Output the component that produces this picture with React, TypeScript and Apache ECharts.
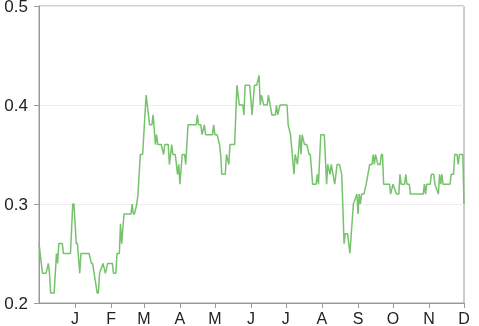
import React, { useEffect, useRef } from "react";
import * as echarts from "echarts";

// Day offsets from 1 Dec (previous year) and the series value on that day (breakpoints of the daily series)
const days = [
  0, 3, 6, 8, 9, 10, 13, 15, 16, 17, 20, 21, 27, 29, 30, 32, 33, 35, 36, 43, 45, 46, 50, 51, 52, 55, 57, 59, 63, 64,
  66, 67, 69, 70, 71, 73, 79, 80, 81, 82, 84, 85, 87, 89, 92, 95, 97, 98, 100, 101, 102, 105, 107, 108, 111, 112,
  114, 115, 117, 119, 120, 121, 123, 125, 126, 128, 135, 136, 137, 139, 140, 142, 143, 149, 150, 151, 153, 155, 156,
  157, 160, 161, 163, 164, 168, 170, 172, 175, 176, 177, 181, 183, 185, 187, 189, 190, 191, 193, 196, 197, 200, 203,
  204, 205, 207, 213, 214, 216, 219, 220, 222, 224, 225, 226, 228, 230, 232, 233, 235, 238, 239, 240, 242, 245, 247,
  248, 250, 251, 254, 256, 258, 260, 262, 263, 265, 267, 270, 273, 274, 275, 276, 277, 279, 281, 284, 286, 287, 288,
  289, 291, 293, 294, 295, 296, 301, 302, 304, 307, 309, 310, 311, 314, 315, 316, 318, 319, 330, 331, 332, 333, 336,
  337, 339, 340, 343, 344, 345, 346, 347, 353, 354, 356, 357, 359, 360, 361, 364, 365,
];
const values = [
  0.26, 0.23, 0.23, 0.24, 0.23, 0.21, 0.21, 0.25, 0.24, 0.26, 0.26, 0.25, 0.25, 0.3, 0.3, 0.26, 0.26, 0.23, 0.25,
  0.25, 0.24, 0.24, 0.21, 0.21, 0.23, 0.24, 0.23, 0.24, 0.24, 0.23, 0.23, 0.25, 0.25, 0.28, 0.26, 0.29, 0.29, 0.3,
  0.29, 0.29, 0.3, 0.31, 0.35, 0.35, 0.41, 0.38, 0.38, 0.39, 0.36, 0.37, 0.36, 0.36, 0.35, 0.36, 0.36, 0.34, 0.36,
  0.35, 0.35, 0.33, 0.34, 0.32, 0.35, 0.35, 0.34, 0.38, 0.38, 0.39, 0.38, 0.38, 0.37, 0.38, 0.37, 0.37, 0.38, 0.37,
  0.37, 0.36, 0.35, 0.33, 0.33, 0.35, 0.34, 0.36, 0.36, 0.42, 0.4, 0.4, 0.39, 0.42, 0.42, 0.39, 0.42, 0.42, 0.43,
  0.4, 0.41, 0.4, 0.4, 0.41, 0.39, 0.39, 0.4, 0.39, 0.4, 0.4, 0.38, 0.37, 0.33, 0.35, 0.34, 0.37, 0.35, 0.37, 0.36,
  0.36, 0.35, 0.35, 0.32, 0.32, 0.33, 0.32, 0.37, 0.37, 0.32, 0.34, 0.33, 0.34, 0.32, 0.34, 0.34, 0.33, 0.26, 0.27,
  0.27, 0.25, 0.3, 0.31, 0.29, 0.31, 0.3, 0.31, 0.31, 0.32, 0.34, 0.34, 0.35, 0.34, 0.35, 0.34, 0.34, 0.35, 0.35,
  0.32, 0.32, 0.31, 0.32, 0.31, 0.31, 0.33, 0.32, 0.32, 0.33, 0.32, 0.32, 0.31, 0.31, 0.32, 0.31, 0.32, 0.32, 0.33,
  0.33, 0.32, 0.31, 0.33, 0.32, 0.33, 0.32, 0.32, 0.33, 0.33, 0.35, 0.35, 0.34, 0.35, 0.35, 0.3,
];

// Month starts (day offsets from 1 Dec) and their tick labels
const monthDays = [31, 62, 90, 121, 151, 182, 212, 243, 274, 304, 335, 365];
const monthLabels = ["J", "F", "M", "A", "M", "J", "J", "A", "S", "O", "N", "D"];
const yTicks = [0.2, 0.3, 0.4, 0.5];

export default function App() {
  const ref = useRef<HTMLDivElement>(null);
  useEffect(() => {
    if (!ref.current) return;
    const chart = echarts.init(ref.current, null, { renderer: "svg" });
    const axisColor = "#9a9a9a";
    const font = "'Liberation Sans', Arial, Helvetica, sans-serif";
    chart.setOption({
      animation: false,
      grid: {
        left: 39,
        right: 15,
        top: 6,
        bottom: 23,
        show: true,
        borderColor: axisColor,
        borderWidth: 1,
        outerBoundsMode: "none",
        containLabel: false,
      },
      xAxis: {
        type: "value",
        min: 0,
        max: 365,
        axisLine: { show: true, lineStyle: { color: axisColor, width: 1 } },
        axisTick: {
          show: true,
          length: 5,
          inside: false,
          customValues: monthDays,
          lineStyle: { color: axisColor },
        },
        axisLabel: {
          show: true,
          customValues: monthDays,
          margin: 7,
          fontSize: 16,
          fontFamily: font,
          color: "#222",
          formatter: (v: number) => {
            const i = monthDays.indexOf(Math.round(v));
            return i >= 0 ? monthLabels[i] : "";
          },
        },
        splitLine: { show: false },
      },
      yAxis: {
        type: "value",
        min: 0.2,
        max: 0.5,
        interval: 0.1,
        axisLine: { show: true, lineStyle: { color: axisColor, width: 1 } },
        axisTick: { show: true, length: 5, lineStyle: { color: axisColor } },
        axisLabel: {
          margin: 11,
          fontSize: 17,
          fontFamily: font,
          color: "#222",
          formatter: (v: number) => {
            const t = yTicks.find((y) => Math.abs(y - v) < 1e-6);
            return t !== undefined ? t.toFixed(1) : "";
          },
        },
        splitLine: { show: true, lineStyle: { color: "#ececec", width: 1 } },
      },
      series: [
        {
          type: "line",
          data: days.map((d, i) => [d, values[i]]),
          showSymbol: false,
          symbol: "none",
          lineStyle: { color: "#77c26d", width: 1.5 },
          itemStyle: { color: "#77c26d" },
        },
      ],
    });
    return () => chart.dispose();
  }, []);
  return (
    <div
      ref={ref}
      style={{ position: "fixed", left: 0, top: 0, width: 479, height: 326 }}
    />
  );
}
